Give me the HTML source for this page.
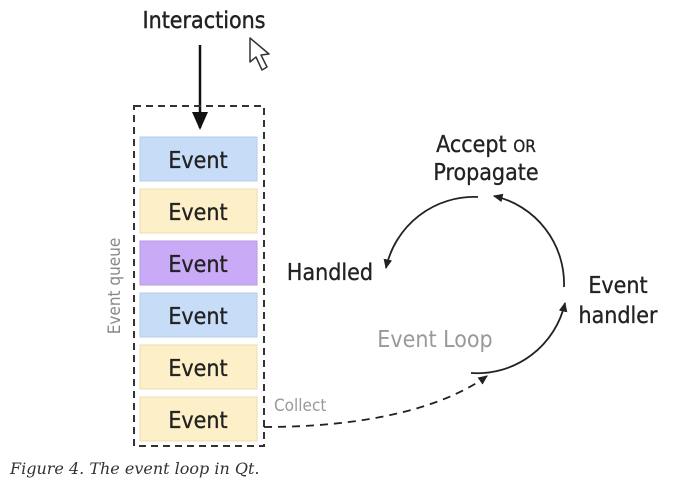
<!DOCTYPE html>
<html><head><style>
body{margin:0;background:#fff;width:679px;height:492px;overflow:hidden}
</style></head><body>
<svg width="679" height="492" xmlns="http://www.w3.org/2000/svg" font-family="'DejaVu Sans Condensed','Liberation Sans',sans-serif">
<defs>
<marker id="a" viewBox="0 0 10 10" refX="8" refY="5" markerWidth="6" markerHeight="6" orient="auto"><path d="M0,1 L9,5 L0,9 z" fill="#222"/></marker>
<marker id="b" viewBox="0 0 10 10" refX="8" refY="5" markerWidth="8" markerHeight="8" orient="auto"><path d="M0,1 L9,5 L0,9 z" fill="#111"/></marker>
</defs>
<g stroke="#222" stroke-width="0.4">
<text x="204" y="28" font-size="23" text-anchor="middle" fill="#222">Interactions</text>
</g>
<path d="M250,38 L250,62 L256,57 L262,70 L267,67 L261,55 L269,54 Z" fill="#fff" stroke="#333" stroke-width="1.5" stroke-linejoin="round"/>
<line x1="200" y1="45" x2="200" y2="128" stroke="#111" stroke-width="2.5" marker-end="url(#b)"/>
<rect x="134" y="106" width="130" height="340" fill="none" stroke="#333" stroke-width="2" stroke-dasharray="7,5"/>
<rect x="140" y="137" width="117" height="44" fill="#c6dcf7" stroke="#b6cde8"/>
<rect x="140" y="189" width="117" height="44" fill="#fdefc8" stroke="#ecdcb0"/>
<rect x="140" y="241" width="117" height="44" fill="#c9aaf6" stroke="#b79ae4"/>
<rect x="140" y="293" width="117" height="44" fill="#c6dcf7" stroke="#b6cde8"/>
<rect x="140" y="345" width="117" height="44" fill="#fdefc8" stroke="#ecdcb0"/>
<rect x="140" y="397" width="117" height="44" fill="#fdefc8" stroke="#ecdcb0"/>
<g font-size="23" fill="#222" text-anchor="middle" stroke="#222" stroke-width="0.3">
<text x="198" y="168">Event</text>
<text x="198" y="220">Event</text>
<text x="198" y="272">Event</text>
<text x="198" y="324">Event</text>
<text x="198" y="376">Event</text>
<text x="198" y="428">Event</text>
<text x="486" y="152">Accept <tspan font-size="17">OR</tspan></text>
<text x="486" y="180">Propagate</text>
<text x="330" y="280">Handled</text>
<text x="618" y="293">Event</text>
<text x="618" y="323">handler</text>
</g>
<text transform="translate(120,286) rotate(-90)" font-size="17" fill="#888" text-anchor="middle">Event queue</text>
<text x="274" y="411" font-size="17" fill="#999">Collect</text>
<text x="435" y="347" font-size="23" fill="#999" text-anchor="middle">Event Loop</text>
<g fill="none" stroke="#222" stroke-width="1.8">
<path d="M564,287 A90,90 0 0 0 494,196" marker-end="url(#a)"/>
<path d="M478,197 A90,90 0 0 0 386,268" marker-end="url(#a)"/>
<path d="M471,373 A90,90 0 0 0 565,303" marker-end="url(#a)"/>
<path d="M264,427 C360,427 440,410 487,376" stroke-dasharray="8,6" marker-end="url(#a)"/>
</g>
<text x="10" y="474" font-family="'DejaVu Serif','Liberation Serif',serif" font-style="italic" font-size="16" fill="#333">Figure 4. The event loop in Qt.</text>
</svg>
</body></html>
